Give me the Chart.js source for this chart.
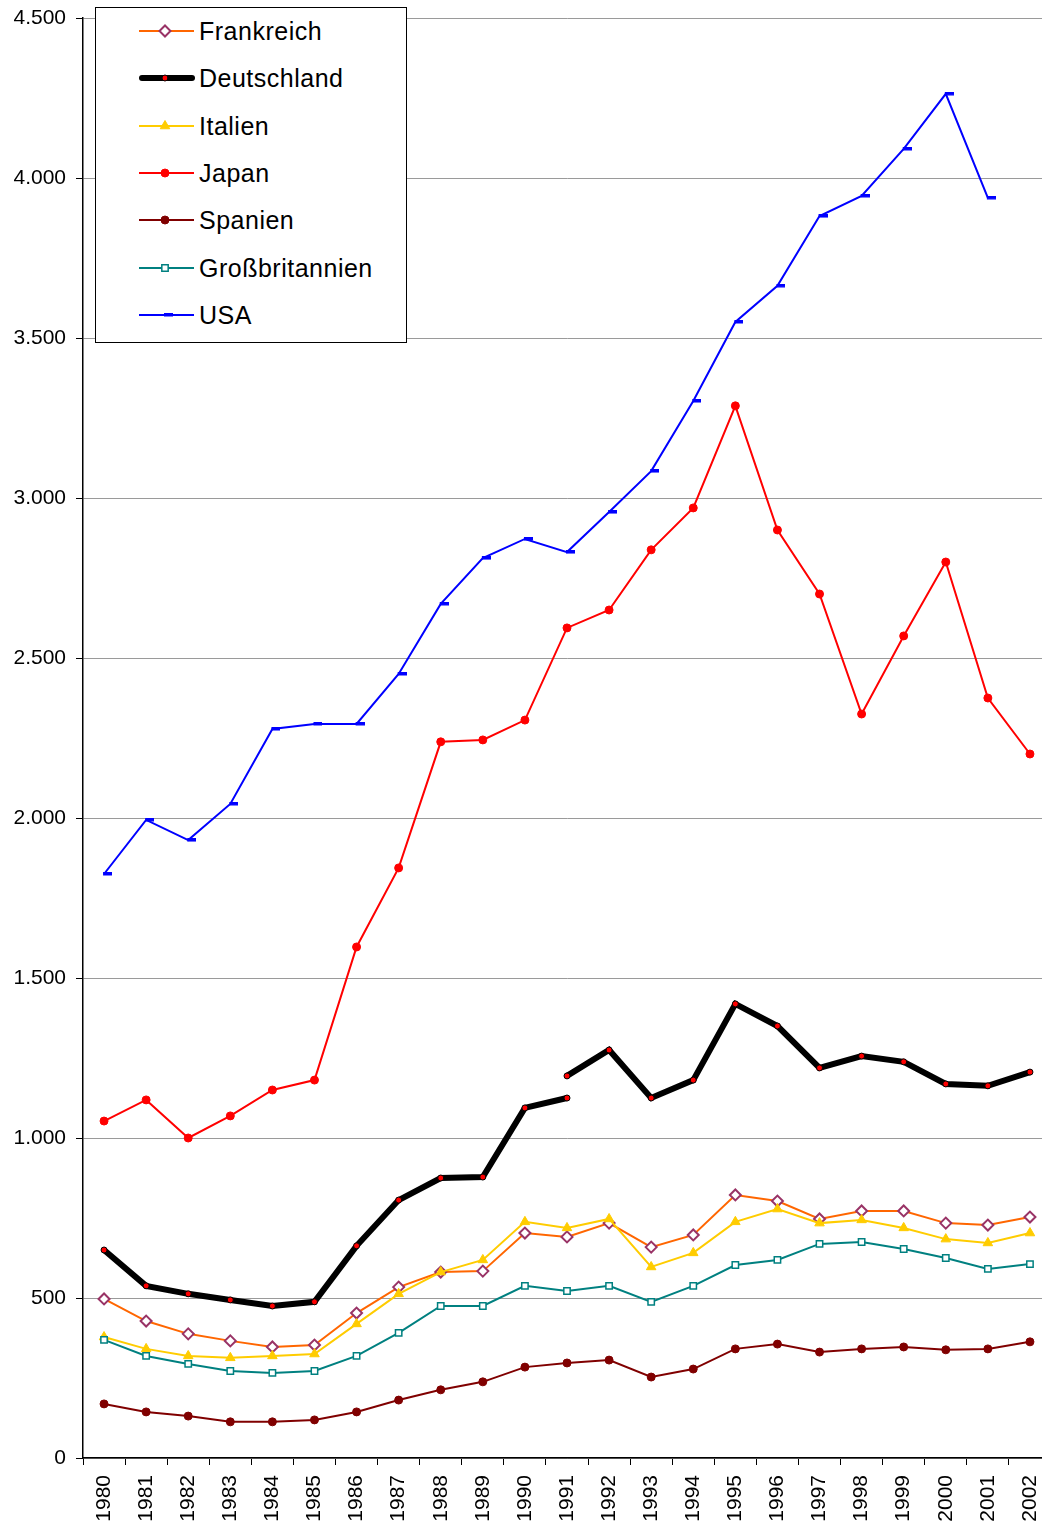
<!DOCTYPE html>
<html>
<head>
<meta charset="utf-8">
<script src="https://cdn.jsdelivr.net/npm/chart.js@4.4.1/dist/chart.umd.min.js"></script>
<style>
  html, body { margin: 0; padding: 0; background: #fff; overflow: hidden; }
  #wrap { position: relative; width: 1042px; height: 1526px; overflow: hidden; }
  #legend {
    position: absolute; left: 95px; top: 7px; width: 310px; height: 334px;
    border: 1px solid #000; background: #fff;
    font-family: "Liberation Sans", Arial, sans-serif; font-size: 25px; letter-spacing: 0.5px;
  }
  .item { position: absolute; left: 0; height: 30px; line-height: 30px; white-space: nowrap; }
  .item canvas { position: absolute; left: 42px; top: 0; }
  .item span { position: absolute; left: 103px; top: 0; color: #000; }
</style>
</head>
<body>
<div id="wrap">
  <canvas id="chart" width="1051" height="1526"></canvas>
  <div id="legend"></div>
</div>
<script>
const years = ["1980","1981","1982","1983","1984","1985","1986","1987","1988","1989","1990",
  "1991","1992","1993","1994","1995","1996","1997","1998","1999","2000","2001","2002"];

const frankreich = [497, 428, 388, 366, 347, 353, 453, 534, 581, 584, 703, 691, 734, 659, 697, 822, 803, 747, 772, 772, 734, 728, 753];
// West Germany up to 1991, united Germany from 1991 on
const deutschlandWest = [650, 538, 513, 494, 475, 488, 663, 806, 875, 878, 1094, 1125, null, null, null, null, null, null, null, null, null, null, null];
const deutschland = [null, null, null, null, null, null, null, null, null, null, null, 1194, 1275, 1125, 1181, 1419, 1350, 1219, 1256, 1238, 1169, 1163, 1206];
const italien = [378, 341, 319, 313, 319, 325, 419, 513, 581, 619, 738, 719, 747, 597, 641, 738, 778, 734, 744, 719, 684, 672, 703];
const japan = [1053, 1119, 1000, 1069, 1150, 1181, 1597, 1844, 2238, 2244, 2306, 2594, 2650, 2838, 2969, 3288, 2900, 2700, 2325, 2569, 2800, 2375, 2200];
const spanien = [169, 144, 131, 113, 113, 119, 144, 181, 213, 238, 284, 297, 306, 253, 278, 341, 356, 331, 341, 347, 338, 341, 363];
const grossbritannien = [369, 319, 294, 272, 266, 272, 319, 391, 475, 475, 538, 522, 538, 488, 538, 603, 619, 669, 675, 653, 625, 591, 606];
const usa = [1825, 1994, 1931, 2044, 2278, 2294, 2294, 2450, 2669, 2812, 2872, 2831, 2956, 3084, 3303, 3550, 3663, 3881, 3944, 4091, 4263, 3938, null];

const yTicks = [0, 500, 1000, 1500, 2000, 2500, 3000, 3500, 4000, 4500];

// small blue dash used as the USA marker (sits right of the point)
function makeDash() {
    const c = document.createElement("canvas");
    c.width = 16; c.height = 4;
    const g = c.getContext("2d");
    g.fillStyle = "#0000FF";
    g.fillRect(7, 0, 9, 3.5);
    return c;
}
const dash = makeDash();

const datasets = [
    { label: "Frankreich", data: frankreich, borderColor: "#FF6600", borderWidth: 2,
      pointStyle: "rectRot", pointRadius: 5.5, pointBorderColor: "#993366", pointBackgroundColor: "#FFFFFF", pointBorderWidth: 2, order: 8 },
    { label: "Deutschland", data: deutschlandWest, borderColor: "#000000", borderWidth: 6,
      pointStyle: "circle", pointRadius: 3, pointBorderColor: "#000000", pointBackgroundColor: "#FF0000", pointBorderWidth: 1, order: 7 },
    { label: "Deutschland (vereint)", data: deutschland, borderColor: "#000000", borderWidth: 6, hideInLegend: true,
      pointStyle: "circle", pointRadius: 3, pointBorderColor: "#000000", pointBackgroundColor: "#FF0000", pointBorderWidth: 1, order: 7 },
    { label: "Italien", data: italien, borderColor: "#FFCC00", borderWidth: 2,
      pointStyle: "triangle", pointRadius: 5.5, pointBorderColor: "#FFCC00", pointBackgroundColor: "#FFCC00", pointBorderWidth: 1, order: 6 },
    { label: "Japan", data: japan, borderColor: "#FF0000", borderWidth: 2,
      pointStyle: "circle", pointRadius: 4, pointBorderColor: "#FF0000", pointBackgroundColor: "#FF0000", pointBorderWidth: 1, order: 5 },
    { label: "Spanien", data: spanien, borderColor: "#800000", borderWidth: 2,
      pointStyle: "circle", pointRadius: 4, pointBorderColor: "#800000", pointBackgroundColor: "#800000", pointBorderWidth: 1, order: 4 },
    { label: "Großbritannien", data: grossbritannien, borderColor: "#008080", borderWidth: 2,
      pointStyle: "rect", pointRadius: 4.5, pointBorderColor: "#008080", pointBackgroundColor: "#FFFFFF", pointBorderWidth: 1.5, order: 3 },
    { label: "USA", data: usa, borderColor: "#0000FF", borderWidth: 2,
      pointStyle: dash, pointRadius: 4, pointBorderColor: "#0000FF", pointBackgroundColor: "#0000FF", order: 2 }
];
datasets.forEach(d => { d.fill = false; d.tension = 0; d.spanGaps = false; d.pointHoverRadius = d.pointRadius; d.clip = false; });

function deNumber(v) {
    return String(v).replace(/\B(?=(\d{3})+(?!\d))/g, ".");
}

const ctx = document.getElementById("chart").getContext("2d");
const chart = new Chart(ctx, {
    type: "line",
    data: { labels: years, datasets: datasets },
    options: {
        responsive: false,
        animation: false,
        layout: { autoPadding: false, padding: { top: 18, right: 0, left: 0, bottom: 0 } },
        plugins: { legend: { display: false }, tooltip: { enabled: false } },
        scales: {
            x: {
                offset: true,
                grid: { offset: true, drawOnChartArea: false, tickLength: 7, color: "#000", tickColor: "#000" },
                border: { color: "#000", width: 1.5 },
                ticks: { color: "#000", font: { family: "'Liberation Sans', Arial, sans-serif", size: 21 },
                         minRotation: 90, maxRotation: 90, padding: 10, autoSkip: false },
                afterFit: s => { s.height = 68; s.paddingLeft = 0; s.paddingRight = 0; }
            },
            y: {
                min: 0, max: 4500,
                afterBuildTicks: s => { s.ticks = yTicks.map(v => ({ value: v })); },
                grid: { color: "#9a9a9a", lineWidth: 1, tickLength: 7, tickColor: "#000" },
                border: { color: "#000", width: 1.5 },
                ticks: { color: "#000", font: { family: "'Liberation Sans', Arial, sans-serif", size: 21 },
                         padding: 10, callback: v => deNumber(v) },
                afterFit: s => { s.width = 83; s.paddingTop = 0; s.paddingBottom = 0; }
            }
        }
    }
});

// legend drawn as HTML, placed in the upper left of the plot
const legendBox = document.getElementById("legend");
const legendSets = datasets.filter(d => !d.hideInLegend);
legendSets.forEach((d, i) => {
    const row = document.createElement("div");
    row.className = "item";
    row.style.top = (23 + i * 47.3 - 15) + "px";
    row.style.width = "300px";
    const c = document.createElement("canvas");
    c.width = 58; c.height = 30;
    const g = c.getContext("2d");
    g.strokeStyle = d.borderColor;
    g.lineWidth = d.borderWidth;
    g.lineCap = d.borderWidth > 3 ? "round" : "butt";
    g.beginPath();
    g.moveTo(d.borderWidth > 3 ? 4 : 1, 15);
    g.lineTo(d.borderWidth > 3 ? 54 : 56, 15);
    g.stroke();
    g.fillStyle = d.pointBackgroundColor;
    g.strokeStyle = d.pointBorderColor;
    g.lineWidth = d.pointBorderWidth || 1;
    if (Chart.helpers && Chart.helpers.drawPoint) {
        Chart.helpers.drawPoint(g, { pointStyle: d.pointStyle, radius: d.pointRadius, rotation: 0, borderWidth: d.pointBorderWidth || 1 }, 27, 15);
    }
    const s = document.createElement("span");
    s.textContent = d.label;
    row.appendChild(c);
    row.appendChild(s);
    legendBox.appendChild(row);
});
</script>
</body>
</html>
